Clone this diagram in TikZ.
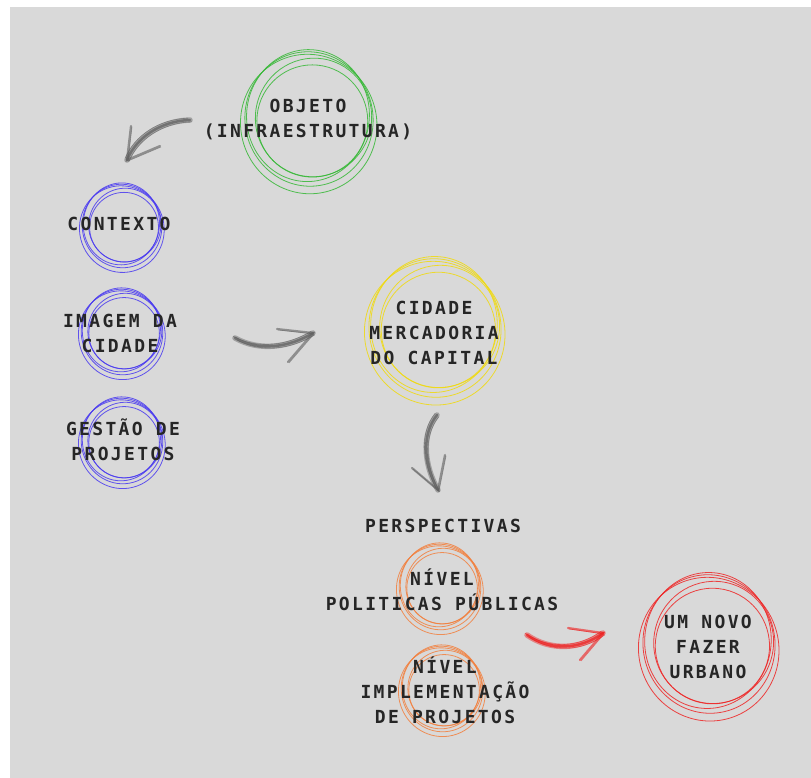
\documentclass[tikz,border=0pt]{standalone}
\usepackage{fontspec}
\newfontfamily\sketchfont{DejaVu Sans Mono}[LetterSpace=13]
\usetikzlibrary{calc}
\definecolor{paper}{HTML}{D9D9D9}
\definecolor{ink}{HTML}{262626}
\definecolor{ringgreen}{HTML}{36B836}
\definecolor{ringblue}{HTML}{4A3AF0}
\definecolor{ringyellow}{HTML}{F0DA10}
\definecolor{ringorange}{HTML}{F2803E}
\definecolor{ringred}{HTML}{EE2626}
\definecolor{brushgray}{HTML}{5F5F5F}
\definecolor{brushred}{HTML}{EE1E1E}

\tikzset{
  boxtext/.style={text=ink, align=center, font=\sketchfont\bfseries\fontsize{18}{25}\selectfont, inner sep=0pt},
  sketchline/.style={line width=0.8pt, opacity=0.85}
}

% hand drawn ring: centre, colour, radius
\newcommand{\sketchring}[3]{%
  \foreach \dx/\dy/\ra/\rb/\rot in {0/0/0.97/1.02/10, 0.06/-0.04/0.88/0.90/-15, -0.03/0.07/1.03/1.06/20, 0.05/0.03/0.84/0.85/0, -0.02/-0.05/0.93/1.00/-5}
    \draw[#2, sketchline, shift={(#1)}, rotate=\rot] (\dx*#3,\dy*#3) ellipse [x radius=\ra*#3, y radius=\rb*#3];
}

% brush arrow: colour, start, control, control, tip, arm, arm
\newcommand{\brusharrow}[7]{%
  \draw[#1, line width=5.5pt, opacity=0.45, line cap=round] (#2) .. controls (#3) and (#4) .. (#5);
  \draw[#1, line width=2.5pt, opacity=0.7, line cap=round] (#2) .. controls (#3) and (#4) .. (#5);
  \foreach \shft in {-1.8,1.8}
    \draw[#1, line width=0.6pt, opacity=0.6] ($(#2)+(\shft,\shft)$) .. controls ($(#3)+(\shft,\shft)$) and ($(#4)+(\shft,\shft)$) .. ($(#5)+(\shft,\shft)$);
  \draw[#1, line width=2.2pt, opacity=0.6, line cap=round] (#6) -- (#5) -- (#7);
  \draw[#1, line width=0.6pt, opacity=0.6] ($(#6)+(1,1)$) -- ($(#5)+(1,1)$) -- ($(#7)+(1,1)$);
}

\begin{document}
\begin{tikzpicture}[x=1pt,y=-1pt]
  \useasboundingbox (0,0) rectangle (811,778);
  \fill[white] (0,0) rectangle (811,778);
  \fill[paper] (10,7) rectangle (811,778);

  % ring centres
  \coordinate (objring) at (309,119);
  \coordinate (ctxring) at (122,226);
  \coordinate (imgring) at (122,332);
  \coordinate (gestring) at (122,441);
  \coordinate (mercring) at (435,328);
  \coordinate (polring) at (440,587);
  \coordinate (impring) at (442,689);
  \coordinate (novoring) at (709,644);

  \sketchring{objring}{ringgreen}{66}
  \sketchring{ctxring}{ringblue}{41}
  \sketchring{imgring}{ringblue}{42}
  \sketchring{gestring}{ringblue}{42}
  \sketchring{mercring}{ringyellow}{68}
  \sketchring{polring}{ringorange}{42}
  \sketchring{impring}{ringorange}{42}
  \sketchring{novoring}{ringred}{68}

  % labels
  \node[boxtext] (objeto) at (308,120) {OBJETO\\(INFRAESTRUTURA)};
  \node[boxtext] (contexto) at (119,224) {CONTEXTO};
  \node[boxtext] (imagem) at (120,333) {IMAGEM DA\\CIDADE};
  \node[boxtext] (gestao) at (123,440) {GESTÃO DE\\PROJETOS};
  \node[boxtext] (mercadoria) at (434,333) {CIDADE\\MERCADORIA\\DO CAPITAL};
  \node[boxtext] (perspectivas) at (443,526) {PERSPECTIVAS};
  \node[boxtext] (politicas) at (442,590) {NÍVEL\\POLITICAS PÚBLICAS};
  \node[boxtext] (implementacao) at (445,690) {NÍVEL\\IMPLEMENTAÇÃO\\DE PROJETOS};
  \node[boxtext] (novo) at (708,647) {UM NOVO\\FAZER\\URBANO};

  % arrow ends
  \coordinate (a1s) at (190,120);
  \coordinate (a1t) at (127,160);
  \coordinate (a1l) at (131,126);
  \coordinate (a1r) at (160,146);
  \coordinate (a2s) at (235,338);
  \coordinate (a2t) at (313,333);
  \coordinate (a2l) at (277,329);
  \coordinate (a2r) at (288,362);
  \coordinate (a3s) at (437,415);
  \coordinate (a3t) at (438,490);
  \coordinate (a3l) at (412,468);
  \coordinate (a3r) at (445,455);
  \coordinate (a4s) at (527,635);
  \coordinate (a4t) at (603,633);
  \coordinate (a4l) at (568,628);
  \coordinate (a4r) at (580,660);

  \brusharrow{brushgray}{a1s}{160,121}{136,138}{a1t}{a1l}{a1r}
  \brusharrow{brushgray}{a2s}{260,352}{290,347}{a2t}{a2l}{a2r}
  \brusharrow{brushgray}{a3s}{421,435}{424,465}{a3t}{a3l}{a3r}
  \brusharrow{brushred}{a4s}{550,651}{580,650}{a4t}{a4l}{a4r}
\end{tikzpicture}
\end{document}
